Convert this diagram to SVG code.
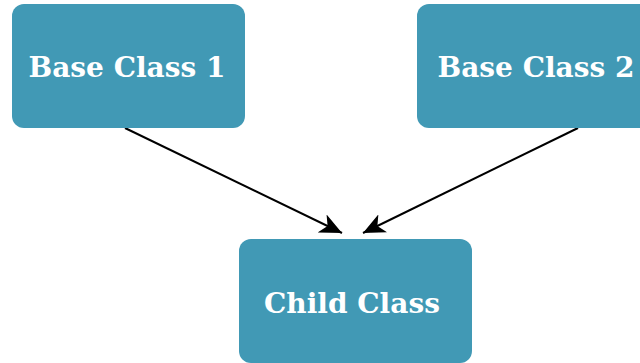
<svg xmlns="http://www.w3.org/2000/svg" width="640" height="363" viewBox="0 0 640 363">
<style>
.node{fill:#4199b5;}
.label{font-family:"DejaVu Serif",serif;font-weight:bold;font-size:28px;fill:#ffffff;text-anchor:middle;}
.edge{stroke:#000;stroke-width:2;fill:none;}
</style>
<defs>
<marker id="arrow" markerWidth="24" markerHeight="20" refX="22" refY="10" orient="auto" markerUnits="userSpaceOnUse">
<path d="M0,0 L22,10 L0,20 L6,10 Z" fill="#000"/>
</marker>
</defs>
<rect width="640" height="363" fill="#fff"/>
<g id="connectors">
<line class="edge" x1="125" y1="128" x2="342" y2="233" marker-end="url(#arrow)"/>
<line class="edge" x1="578" y1="128" x2="363" y2="233" marker-end="url(#arrow)"/>
</g>
<g id="base1">
<rect class="node" x="12" y="4" width="233" height="124" rx="12"/>
<text class="label" x="127" y="77">Base Class 1</text>
</g>
<g id="base2">
<rect class="node" x="417" y="4" width="240" height="124" rx="12"/>
<text class="label" x="536" y="77">Base Class 2</text>
</g>
<g id="child">
<rect class="node" x="239" y="239" width="233" height="124" rx="12"/>
<text class="label" x="352" y="313">Child Class</text>
</g>
</svg>
